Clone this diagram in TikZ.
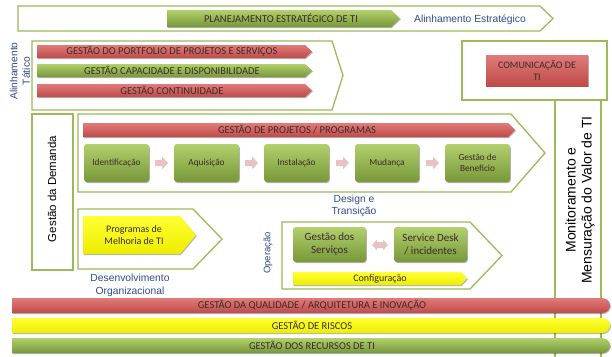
\documentclass[tikz,border=0pt]{standalone}
\usepackage{fontspec}
\setmainfont{Carlito}
\newfontfamily\arialf{Liberation Sans}
\usetikzlibrary{shadows}
\definecolor{olg}{HTML}{9BBB59}
\definecolor{redT}{HTML}{E17B79}
\definecolor{redB}{HTML}{BE4B48}
\definecolor{grnT}{HTML}{B2D06C}
\definecolor{grnB}{HTML}{779739}
\definecolor{yelT}{HTML}{FFFF33}
\definecolor{yelB}{HTML}{EDED00}
\definecolor{blueL}{HTML}{2F4B8A}
\definecolor{pinkA}{HTML}{E9C3C3}
\definecolor{darktxt}{HTML}{3A2B2B}
\newcommand\arrshape[6]{\path[#1] (#2,#3) -- ({#4-#6},#3) -- (#4,{(#3+#5)/2}) -- ({#4-#6},#5) -- (#2,#5) -- cycle;}
\newcommand\pinkr[2]{\path[pinkarr] (#1,{#2-3}) -- ({#1+7},{#2-3}) -- ({#1+7},{#2-6.5}) -- ({#1+13},#2) -- ({#1+7},{#2+6.5}) -- ({#1+7},{#2+3}) -- (#1,{#2+3}) -- cycle;}
\tikzset{
  outl/.style={draw=olg, line width=1.3pt, fill=white},
  shd/.style={drop shadow={shadow xshift=0.8pt, shadow yshift=-1pt, opacity=0.3, fill=black}},
  redbar/.style={top color=redT, bottom color=redB, shd},
  grnbar/.style={top color=grnT, bottom color=grnB, shd},
  yelbar/.style={top color=yelT, bottom color=yelB, shd},
  grnbox/.style={top color=grnT, bottom color=grnB, rounded corners=3pt, shd},
  pinkarr/.style={fill=pinkA},
  bartext/.style={font=\fontsize{10.5}{12}\selectfont, text=darktxt, inner sep=0pt},
  boxtext/.style={font=\fontsize{9.3}{11}\selectfont, text=darktxt, align=center, inner sep=0pt},
  bigtext/.style={font=\fontsize{10}{12}\selectfont, text=darktxt, align=center, inner sep=0pt},
  bluelab/.style={font=\arialf\fontsize{10.3}{12.5}\selectfont, text=blueL, align=center, inner sep=0pt},
  blacklab/.style={font=\arialf\fontsize{14}{16}\selectfont, text=black, align=center, inner sep=0pt},
}
\begin{document}
\begin{tikzpicture}[x=1pt, y=-1pt]
\useasboundingbox (0,0) rectangle (612,356);
\fill[white] (0,0) rectangle (612,356);

% ---------- Alinhamento estrategico
\path[outl] (18,6) -- (540,6) -- (553,18.5) -- (540,31) -- (18,31) -- cycle;
\arrshape{grnbar}{167}{10}{400}{27}{9}
\node[bartext] (plan) at (281,18.5) {PLANEJAMENTO ESTRATÉGICO DE TI};
\node[bluelab] (alest) at (470,20) {Alinhamento Estratégico};

% ---------- Alinhamento tatico
\path[outl] (32,41) -- (332,41) -- (343,75.5) -- (332,110) -- (32,110) -- cycle;
\arrshape{redbar}{37}{45}{312}{58}{7}
\node[bartext] (portf) at (172,51.5) {GESTÃO DO PORTFOLIO DE PROJETOS E SERVIÇOS};
\arrshape{grnbar}{37}{64}{312}{77}{7}
\node[bartext] (capac) at (172,70.5) {GESTÃO CAPACIDADE E DISPONIBILIDADE};
\arrshape{redbar}{37}{84}{312}{97}{7}
\node[bartext] (contin) at (172,90.5) {GESTÃO CONTINUIDADE};
\node[bluelab, rotate=90] (altat) at (20,71) {Alinhamento\\Tático};

% ---------- Monitoramento column and comunicacao
\path[outl] (555,100) rectangle (601,362);
\node[blacklab, rotate=90] (monit) at (580,200) {Monitoramento e\\Mensuração do Valor de TI};
\path[outl] (462,41) rectangle (607,100);
\path[redbar] (486,55) rectangle (588,86);
\node[bigtext] (comun) at (537,70.5) {COMUNICAÇÃO DE\\TI};

% ---------- Gestao da demanda
\path[outl] (32,114) rectangle (73,270);
\node[font=\arialf\fontsize{11.5}{13}\selectfont, rotate=90, inner sep=0pt] (gdem) at (52,189) {Gestão da Demanda};

% ---------- Design e transicao
\path[outl] (78,114) -- (511,114) -- (545,153) -- (511,192) -- (78,192) -- cycle;
\arrshape{redbar}{83}{123}{515}{137}{7}
\node[bartext] (gproj) at (297,130) {GESTÃO DE PROJETOS / PROGRAMAS};
\path[grnbox] (84,144) rectangle (149,182);
\node[boxtext] (ident) at (116.5,163) {Identificação};
\path[grnbox] (174,144) rectangle (239,182);
\node[boxtext] (aquis) at (206.5,163) {Aquisição};
\path[grnbox] (264,144) rectangle (329,182);
\node[boxtext] (instal) at (296.5,163) {Instalação};
\path[grnbox] (355,144) rectangle (419,182);
\node[boxtext] (mudan) at (387,163) {Mudança};
\path[grnbox] (445,144) rectangle (510,182);
\node[boxtext] (benef) at (477.5,163) {Gestão de\\Beneficio};
\pinkr{155}{163}
\pinkr{245}{163}
\pinkr{336}{163}
\pinkr{426}{163}
\node[bluelab] (design) at (354,206) {Design e\\Transição};

% ---------- Desenvolvimento organizacional
\path[outl] (78,209) -- (193,209) -- (222,239) -- (193,269) -- (78,269) -- cycle;
\arrshape{yelbar}{83}{216}{196}{254}{16}
\node[bigtext] (melh) at (134,235) {Programas de\\Melhoria de TI};
\node[bluelab] (desorg) at (130,285.5) {Desenvolvimento\\Organizacional};

% ---------- Operacao
\path[outl] (282,222) -- (470,222) -- (502,255.5) -- (470,289) -- (282,289) -- cycle;
\path[grnbox] (293,227) rectangle (366,262);
\node[bigtext, font=\fontsize{11}{13}\selectfont] (gserv) at (329.5,244.5) {Gestão dos\\Serviços};
\path[grnbox] (394,227) rectangle (467,262);
\node[bigtext, font=\fontsize{11}{13}\selectfont] (sdesk) at (430.5,244.5) {Service Desk\\/ incidentes};
\path[pinkarr] (372,245) -- (377,239.5) -- (377,242) -- (383,242) -- (383,239.5) -- (388,245) -- (383,250.5) -- (383,248) -- (377,248) -- (377,250.5) -- cycle;
\arrshape{yelbar}{293}{272}{467}{285}{6}
\node[bigtext] (config) at (380,278.5) {Configuração};
\node[bluelab, font=\arialf\fontsize{9.5}{12}\selectfont, rotate=90] (oper) at (268,253) {Operação};

% ---------- Bottom bars
\path[redbar] (12,298) -- (602,298) .. controls (607,298) and (610,302) .. (610,305.5) .. controls (610,309) and (607,313) .. (602,313) -- (12,313) -- cycle;
\node[bartext] (qual) at (312,305.5) {GESTÃO DA QUALIDADE / ARQUITETURA E INOVAÇÃO};
\path[yelbar] (12,318) -- (602,318) .. controls (607,318) and (610,322) .. (610,325.5) .. controls (610,329) and (607,333) .. (602,333) -- (12,333) -- cycle;
\node[bartext] (risc) at (312,325.5) {GESTÃO DE RISCOS};
\path[grnbar] (12,338) -- (602,338) .. controls (607,338) and (610,342) .. (610,345.5) .. controls (610,349) and (607,353) .. (602,353) -- (12,353) -- cycle;
\node[bartext] (recur) at (312,345.5) {GESTÃO DOS RECURSOS DE TI};
\end{tikzpicture}
\end{document}
